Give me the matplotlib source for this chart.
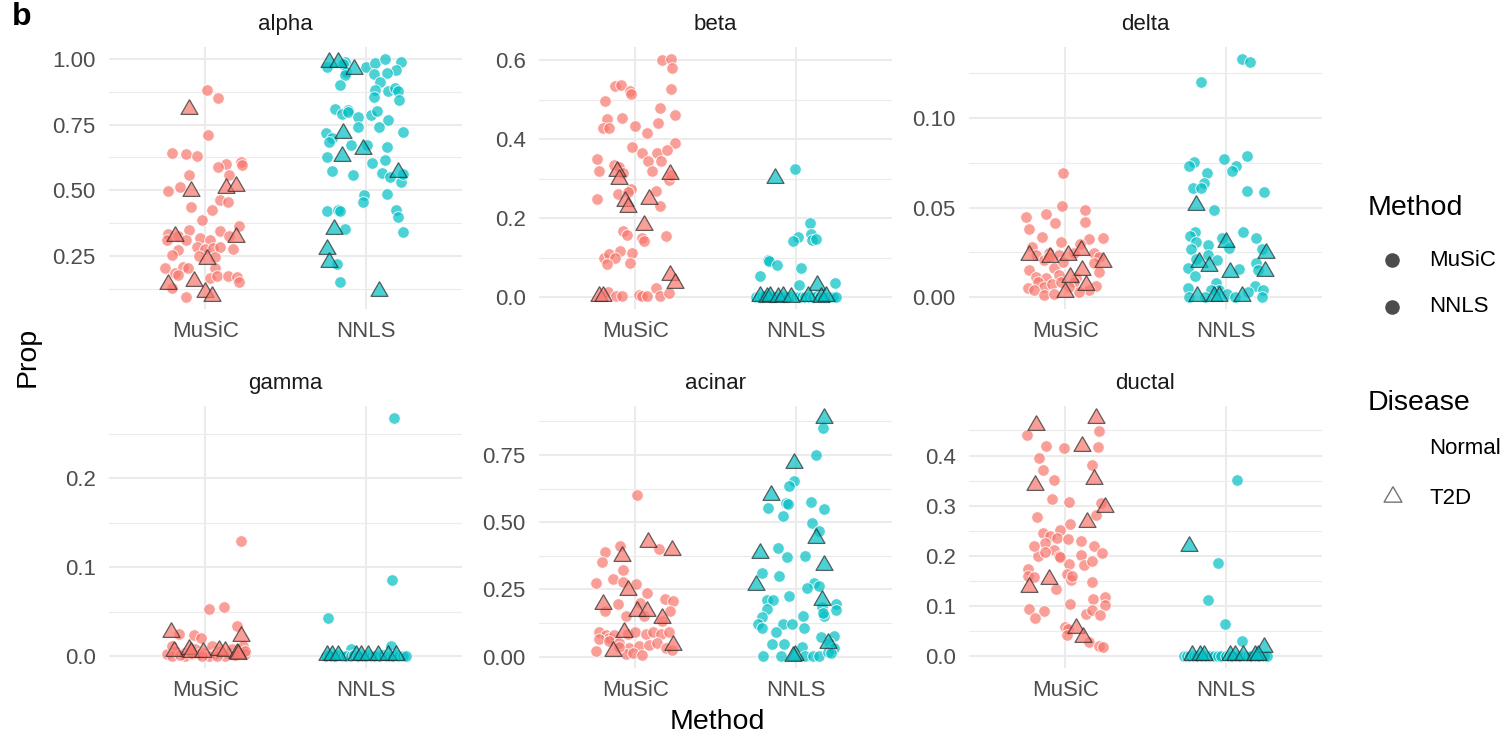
import numpy as np
import matplotlib
matplotlib.use("Agg")
import matplotlib.pyplot as plt

plt.rcParams['font.family'] = ['Liberation Sans', 'DejaVu Sans']

# ---------------- data ----------------
methods = ['MuSiC', 'NNLS']
cell_types = ['alpha', 'beta', 'delta', 'gamma', 'acinar', 'ductal']
disease_levels = ['Normal', 'T2D']

# alpha
alpha_music_normal = [0.883, 0.852, 0.712, 0.643, 0.639, 0.629, 0.601, 0.588, 0.607, 0.595, 0.559, 0.559, 0.497, 0.512,
                      0.464, 0.455, 0.436, 0.427, 0.389, 0.351, 0.347, 0.363, 0.335, 0.328, 0.310, 0.310, 0.320, 0.312,
                      0.325, 0.274, 0.284, 0.278, 0.282, 0.284, 0.278, 0.253, 0.249, 0.246, 0.204, 0.187, 0.208, 0.204,
                      0.204, 0.179, 0.168, 0.176, 0.176, 0.170, 0.151, 0.130, 0.094]
alpha_music_normal_jit = [0.01, 0.08, 0.02, -0.21, -0.12, -0.05, 0.13, 0.08, 0.22, 0.23, -0.10, 0.15, -0.23, -0.16,
                          0.09, 0.14, -0.09, 0.04, -0.02, -0.10, 0.09, 0.21, -0.23, -0.17, -0.24, -0.12, -0.03, 0.03,
                          0.15, -0.17, -0.05, 0.00, 0.05, 0.09, 0.17, -0.21, -0.04, 0.06, -0.25, -0.19, -0.14, -0.11,
                          0.06, -0.17, 0.03, 0.07, 0.14, 0.20, 0.21, -0.21, -0.12]
alpha_music_t2d = [0.810, 0.496, 0.508, 0.516, 0.328, 0.322, 0.237, 0.145, 0.154, 0.113, 0.097]
alpha_music_t2d_jit = [-0.10, -0.09, 0.13, 0.19, -0.19, 0.19, 0.01, -0.23, -0.07, 0.00, 0.04]
alpha_nnls_normal = [0.968, 0.990, 0.981, 0.968, 0.984, 1.000, 0.987, 0.956, 0.943, 0.946, 0.949, 0.937, 0.899, 0.911,
                     0.882, 0.854, 0.877, 0.890, 0.877, 0.842, 0.810, 0.804, 0.791, 0.797, 0.778, 0.785, 0.801, 0.768,
                     0.740, 0.740, 0.721, 0.717, 0.698, 0.683, 0.671, 0.674, 0.664, 0.626, 0.614, 0.603, 0.573, 0.560,
                     0.567, 0.550, 0.531, 0.563, 0.481, 0.455, 0.487, 0.421, 0.426, 0.421, 0.426, 0.398, 0.341, 0.354,
                     0.221, 0.151]
alpha_nnls_normal_jit = [-0.24, -0.13, -0.14, 0.00, 0.06, 0.12, 0.22, 0.19, 0.05, 0.13, -0.12, -0.13, -0.16, 0.09,
                         0.06, 0.05, 0.14, 0.18, 0.20, 0.21, -0.19, -0.11, -0.15, -0.11, -0.05, 0.03, 0.07, 0.14,
                         -0.05, 0.08, 0.23, -0.25, -0.21, -0.23, -0.09, 0.01, 0.13, -0.24, 0.12, 0.04, -0.21, -0.08,
                         0.10, 0.15, 0.22, 0.23, -0.01, -0.02, 0.13, -0.24, -0.17, -0.16, 0.19, 0.20, 0.23, -0.13,
                         -0.18, -0.16]
alpha_nnls_t2d = [0.987, 0.987, 0.962, 0.719, 0.658, 0.630, 0.569, 0.354, 0.278, 0.227, 0.117]
alpha_nnls_t2d_jit = [-0.23, -0.17, -0.07, -0.14, -0.02, -0.15, 0.20, -0.20, -0.24, -0.23, 0.08]

# beta
beta_music_normal = [0.602, 0.604, 0.581, 0.528, 0.535, 0.539, 0.522, 0.514, 0.496, 0.480, 0.462, 0.451, 0.454, 0.429,
                     0.429, 0.435, 0.441, 0.417, 0.391, 0.380, 0.366, 0.366, 0.372, 0.349, 0.344, 0.344, 0.321, 0.336,
                     0.330, 0.315, 0.320, 0.296, 0.273, 0.262, 0.270, 0.266, 0.248, 0.232, 0.167, 0.158, 0.150, 0.142,
                     0.154, 0.100, 0.110, 0.117, 0.112, 0.099, 0.085, 0.087, 0.014, 0.002, 0.003, 0.006, 0.002, 0.003,
                     0.024, 0.004, 0.011, 0.309]
beta_music_normal_jit = [0.165, 0.22, 0.23, 0.223, -0.124, -0.089, -0.033, -0.027, -0.186, 0.153, 0.247, -0.175,
                         -0.082, -0.202, -0.165, 0.0, 0.144, 0.072, 0.247, -0.02, 0.045, 0.134, 0.196, -0.237, 0.082,
                         0.159, -0.223, -0.13, -0.103, -0.078, 0.103, 0.21, -0.027, -0.109, 0.128, -0.047, -0.237,
                         0.155, -0.078, -0.052, 0.041, 0.052, 0.19, -0.192, -0.161, -0.093, -0.02, -0.124, -0.175,
                         -0.033, -0.171, -0.12, -0.085, 0.025, 0.041, 0.07, 0.128, 0.153, 0.21, 0.22]
beta_music_t2d = [0.321, 0.300, 0.243, 0.228, 0.249, 0.184, 0.313, 0.055, 0.036, 0.004, 0.003]
beta_music_t2d_jit = [-0.113, -0.103, -0.062, -0.047, 0.087, 0.056, 0.214, 0.214, 0.247, -0.223, -0.202]
beta_nnls_normal = [0.324, 0.188, 0.152, 0.142, 0.161, 0.144, 0.148, 0.095, 0.091, 0.082, 0.074, 0.053, 0.030, 0.036,
                    0.0, 0.001, 0.0, 0.002, 0.0, 0.001, 0.0, 0.0, 0.001, 0.0, 0.002, 0.0, 0.001, 0.0, 0.0, 0.001,
                    0.0, 0.002, 0.0, 0.001, 0.0, 0.0, 0.001, 0.0]
beta_nnls_normal_jit = [-0.006, 0.087, 0.014, -0.02, 0.093, 0.10, 0.128, -0.171, -0.167, -0.115, 0.035, -0.223, 0.019,
                        0.247, -0.25, -0.23, -0.21, -0.19, -0.16, -0.14, -0.12, -0.09, -0.07, -0.05, -0.02, 0.0,
                        0.02, 0.04, 0.06, 0.08, 0.11, 0.13, 0.15, 0.17, 0.19, 0.21, 0.23, 0.25]
beta_nnls_t2d = [0.301, 0.030, 0.002, 0.001, 0.002, 0.001, 0.002, 0.001, 0.002, 0.001, 0.002]
beta_nnls_t2d_jit = [-0.13, 0.134, -0.223, -0.181, -0.16, -0.109, -0.078, -0.027, 0.076, 0.159, 0.19]

# delta
delta_music_normal = [0.0694, 0.0509, 0.0448, 0.0467, 0.0485, 0.0383, 0.0415, 0.0420, 0.0337, 0.0309, 0.0322, 0.0331,
                      0.0281, 0.0296, 0.0235, 0.0244, 0.0235, 0.0244, 0.0244, 0.0226, 0.0207, 0.0161, 0.0198, 0.0189,
                      0.0143, 0.0152, 0.0115, 0.0106, 0.0124, 0.0106, 0.0087, 0.0050, 0.0059, 0.0074, 0.0087, 0.0087,
                      0.0063, 0.0041, 0.0013, 0.0019, 0.0037, 0.0026, 0.0059, 0.0226]
delta_music_normal_jit = [-0.012, -0.021, -0.244, -0.12, 0.122, -0.229, -0.062, 0.124, -0.145, -0.027, 0.149, 0.236,
                          -0.207, 0.091, -0.182, -0.099, -0.037, 0.056, 0.18, 0.211, -0.13, -0.072, -0.017, 0.18,
                          0.211, -0.223, -0.182, -0.12, -0.037, 0.066, -0.171, -0.233, -0.13, -0.083, -0.027, 0.056,
                          0.19, -0.192, -0.13, -0.068, 0.149, 0.087, 0.025, -0.099]
delta_music_t2d = [0.0235, 0.0222, 0.0235, 0.0263, 0.0198, 0.0152, 0.0115, 0.0069, 0.0031]
delta_music_t2d_jit = [-0.223, -0.095, 0.014, 0.101, 0.236, 0.107, 0.031, 0.132, 0.0]
delta_nnls_normal = [0.1331, 0.1313, 0.1204, 0.0791, 0.0769, 0.0757, 0.0735, 0.0730, 0.0704, 0.0694, 0.0639, 0.0609,
                     0.0609, 0.0591, 0.0587, 0.0489, 0.0365, 0.0361, 0.0343, 0.0333, 0.0333, 0.0309, 0.0291, 0.0272,
                     0.0269, 0.0269, 0.0235, 0.0213, 0.0207, 0.0193, 0.0161, 0.0157, 0.0152, 0.0120, 0.0081, 0.0063,
                     0.0050, 0.0037, 0.0041, 0.0041, 0.0019, 0.0, 0.0, 0.0, 0.0, 0.0031]
delta_nnls_normal_jit = [0.103, 0.153, -0.155, 0.134, -0.01, -0.2, -0.231, 0.064, 0.037, -0.114, -0.138, -0.205,
                         -0.153, 0.13, 0.24, -0.07, 0.105, -0.194, -0.225, 0.188, -0.025, -0.184, -0.112, 0.021,
                         -0.217, 0.227, -0.112, -0.184, -0.056, 0.186, -0.236, 0.083, 0.202, -0.19, -0.06, 0.182,
                         -0.236, 0.233, -0.039, -0.091, 0.006, -0.231, 0.227, 0.058, -0.128, 0.14]
delta_nnls_t2d = [0.0517, 0.0309, 0.0198, 0.0174, 0.0139, 0.0244, 0.0146, 0.0007, 0.0007, 0.0007, 0.0007]
delta_nnls_t2d_jit = [-0.186, 0.0, -0.165, -0.103, 0.027, 0.248, 0.244, -0.18, -0.076, -0.045, 0.099]

# gamma
gamma_music_normal = [0.130, 0.0535, 0.055, 0.0344, 0.0236, 0.0206, 0.025, 0.0019, 0.0112, 0.0056, 0.0037, 0.0,
                      0.0075, 0.0019, 0.0037, 0.0112, 0.0019, 0.0056, 0.0037, 0.0082, 0.0019, 0.0112, 0.0019, 0.0056,
                      0.0, 0.0019, 0.0, 0.0, 0.001, 0.0, 0.0, 0.001, 0.004]
gamma_music_normal_jit = [0.222, 0.025, 0.114, 0.2, -0.072, -0.025, -0.166, -0.238, -0.207, -0.186, -0.135, -0.124,
                          -0.062, -0.041, -0.01, 0.041, 0.062, 0.093, 0.145, 0.166, 0.207, 0.238, 0.248, 0.25,
                          -0.207, -0.083, 0.021, 0.124, -0.155, -0.02, 0.07, 0.185, -0.09]
gamma_music_t2d = [0.0273, 0.0224, 0.0056, 0.0075, 0.0045, 0.0045, 0.0064, 0.0056, 0.0037, 0.0019]
gamma_music_t2d_jit = [-0.211, 0.224, -0.197, -0.104, -0.087, -0.017, 0.083, 0.124, 0.197, 0.207]
gamma_nnls_normal = [0.268, 0.086, 0.043, 0.0082, 0.0112, 0.0, 0.001, 0.0, 0.0, 0.001, 0.0, 0.0, 0.0, 0.001, 0.0,
                     0.0, 0.0, 0.001, 0.0, 0.0, 0.0, 0.001, 0.0, 0.0, 0.0, 0.001, 0.0, 0.0, 0.0]
gamma_nnls_normal_jit = [0.176, 0.166, -0.238, -0.089, 0.159, -0.25, -0.23, -0.21, -0.19, -0.16, -0.14, -0.12, -0.09,
                         -0.07, -0.05, -0.02, 0.0, 0.02, 0.04, 0.06, 0.08, 0.11, 0.13, 0.15, 0.17, 0.19, 0.21, 0.23,
                         0.25]
gamma_nnls_t2d = [0.0015, 0.0015, 0.0015, 0.0015, 0.0015, 0.0015, 0.0015, 0.0015, 0.0015]
gamma_nnls_t2d_jit = [-0.244, -0.213, -0.172, -0.058, -0.027, 0.014, 0.077, 0.139, 0.19]

# acinar
acinar_music_normal = [0.602, 0.413, 0.401, 0.391, 0.352, 0.324, 0.287, 0.275, 0.278, 0.271, 0.237, 0.213, 0.206,
                       0.201, 0.194, 0.170, 0.169, 0.150, 0.150, 0.132, 0.090, 0.080, 0.068, 0.080, 0.086, 0.090,
                       0.086, 0.093, 0.086, 0.093, 0.064, 0.059, 0.052, 0.031, 0.039, 0.043, 0.049, 0.031, 0.025,
                       0.021, 0.009, 0.015, 0.006, 0.037]
acinar_music_normal_jit = [0.01, -0.093, 0.148, -0.188, -0.208, -0.074, -0.14, -0.247, -0.074, 0.004, 0.072, 0.184,
                           0.237, 0.031, -0.105, -0.188, 0.214, -0.058, 0.052, 0.165, -0.227, -0.181, -0.165, -0.13,
                           -0.047, -0.002, 0.066, 0.113, 0.159, 0.21, -0.223, -0.165, -0.103, -0.041, 0.025, 0.087,
                           0.138, 0.19, 0.231, -0.247, -0.058, -0.016, 0.045, -0.099]
acinar_music_t2d = [0.428, 0.398, 0.376, 0.247, 0.194, 0.170, 0.170, 0.142, 0.093, 0.021, 0.043]
acinar_music_t2d_jit = [0.08, 0.231, -0.085, -0.047, -0.202, 0.008, 0.076, 0.169, -0.068, -0.136, 0.235]
acinar_nnls_normal = [0.849, 0.749, 0.654, 0.635, 0.570, 0.567, 0.553, 0.577, 0.549, 0.522, 0.497, 0.469, 0.405,
                      0.370, 0.374, 0.312, 0.300, 0.275, 0.257, 0.262, 0.226, 0.212, 0.210, 0.197, 0.175, 0.176,
                      0.183, 0.146, 0.152, 0.152, 0.163, 0.123, 0.123, 0.121, 0.105, 0.105, 0.090, 0.074, 0.078,
                      0.046, 0.046, 0.037, 0.049, 0.031, 0.002, 0.002, 0.002, 0.002, 0.002, 0.019, 0.015]
acinar_nnls_normal_jit = [0.169, 0.128, -0.01, -0.041, -0.058, -0.047, -0.171, 0.097, 0.179, -0.082, 0.101, 0.148,
                          -0.109, -0.052, 0.06, -0.212, -0.103, 0.113, 0.07, 0.142, -0.041, -0.177, -0.14, 0.252,
                          0.252, -0.177, 0.165, -0.208, 0.045, 0.179, 0.169, -0.233, -0.082, -0.023, -0.212, 0.049,
                          -0.12, 0.155, 0.237, -0.146, -0.072, 0.041, 0.21, 0.241, -0.206, -0.093, 0.056, 0.107,
                          0.148, 0.2, 0.221]
acinar_nnls_t2d = [0.888, 0.722, 0.602, 0.440, 0.385, 0.342, 0.265, 0.210, 0.052, 0.006, 0.003]
acinar_nnls_t2d_jit = [0.179, -0.01, -0.157, 0.124, -0.223, 0.179, -0.247, 0.163, 0.2, -0.006, -0.016]

# ductal
ductal_music_normal = [0.441, 0.449, 0.419, 0.414, 0.416, 0.395, 0.382, 0.372, 0.352, 0.314, 0.307, 0.305, 0.281,
                       0.278, 0.264, 0.245, 0.252, 0.240, 0.236, 0.234, 0.230, 0.219, 0.225, 0.211, 0.199, 0.199,
                       0.202, 0.205, 0.184, 0.182, 0.189, 0.173, 0.160, 0.158, 0.163, 0.151, 0.148, 0.134, 0.114,
                       0.118, 0.104, 0.102, 0.094, 0.090, 0.076, 0.084, 0.091, 0.081, 0.059, 0.055, 0.043, 0.028,
                       0.021, 0.018, 0.220, 0.207, 0.197, 0.159]
ductal_music_normal_jit = [-0.24, 0.211, -0.12, -0.006, 0.205, -0.165, 0.169, -0.136, -0.068, -0.083, 0.025, 0.221,
                           0.194, -0.176, 0.031, -0.14, -0.031, -0.095, -0.054, 0.014, 0.097, 0.176, -0.124, -0.068,
                           -0.171, -0.037, 0.097, 0.227, 0.025, 0.114, 0.169, -0.233, -0.233, -0.192, 0.008, 0.035,
                           0.169, -0.058, 0.174, 0.248, 0.029, 0.246, -0.227, -0.13, -0.186, 0.132, 0.165, 0.217,
                           0.0, 0.014, 0.008, 0.149, 0.211, 0.238, -0.192, -0.124, -0.031, 0.045]
ductal_music_t2d = [0.461, 0.475, 0.419, 0.354, 0.341, 0.298, 0.268, 0.153, 0.138, 0.057, 0.039]
ductal_music_t2d_jit = [-0.182, 0.194, 0.103, 0.176, -0.186, 0.246, 0.138, -0.103, -0.223, 0.066, 0.112]
ductal_nnls_normal = [0.351, 0.186, 0.111, 0.064, 0.031, 0.0, 0.0, 0.001, 0.0, 0.0, 0.0, 0.001, 0.0, 0.0, 0.0,
                      0.0, 0.001, 0.0, 0.0, 0.0, 0.0, 0.001, 0.0, 0.0, 0.0, 0.0, 0.0, 0.001]
ductal_nnls_normal_jit = [0.072, -0.05, -0.112, -0.004, 0.103, -0.26, -0.24, -0.22, -0.2, -0.18, -0.15, -0.12, -0.1,
                          -0.07, -0.05, -0.03, 0.0, 0.02, 0.04, 0.07, 0.09, 0.12, 0.14, 0.16, 0.19, 0.21, 0.24, 0.26]
ductal_nnls_t2d = [0.220, 0.018, 0.003, 0.003, 0.003, 0.003, 0.003, 0.003, 0.003, 0.003]
ductal_nnls_t2d_jit = [-0.231, 0.24, -0.211, -0.159, -0.138, 0.027, 0.058, 0.11, 0.182, 0.202]

# y-axis breaks per facet
alpha_breaks = [0.25, 0.50, 0.75, 1.00]
beta_breaks = [0.0, 0.2, 0.4, 0.6]
delta_breaks = [0.00, 0.05, 0.10]
gamma_breaks = [0.0, 0.1, 0.2]
acinar_breaks = [0.00, 0.25, 0.50, 0.75]
ductal_breaks = [0.0, 0.1, 0.2, 0.3, 0.4]

panels = {
    'alpha': ((alpha_music_normal, alpha_music_normal_jit, alpha_music_t2d, alpha_music_t2d_jit),
              (alpha_nnls_normal, alpha_nnls_normal_jit, alpha_nnls_t2d, alpha_nnls_t2d_jit),
              alpha_breaks, '{:.2f}'),
    'beta': ((beta_music_normal, beta_music_normal_jit, beta_music_t2d, beta_music_t2d_jit),
             (beta_nnls_normal, beta_nnls_normal_jit, beta_nnls_t2d, beta_nnls_t2d_jit),
             beta_breaks, '{:.1f}'),
    'delta': ((delta_music_normal, delta_music_normal_jit, delta_music_t2d, delta_music_t2d_jit),
              (delta_nnls_normal, delta_nnls_normal_jit, delta_nnls_t2d, delta_nnls_t2d_jit),
              delta_breaks, '{:.2f}'),
    'gamma': ((gamma_music_normal, gamma_music_normal_jit, gamma_music_t2d, gamma_music_t2d_jit),
              (gamma_nnls_normal, gamma_nnls_normal_jit, gamma_nnls_t2d, gamma_nnls_t2d_jit),
              gamma_breaks, '{:.1f}'),
    'acinar': ((acinar_music_normal, acinar_music_normal_jit, acinar_music_t2d, acinar_music_t2d_jit),
               (acinar_nnls_normal, acinar_nnls_normal_jit, acinar_nnls_t2d, acinar_nnls_t2d_jit),
               acinar_breaks, '{:.2f}'),
    'ductal': ((ductal_music_normal, ductal_music_normal_jit, ductal_music_t2d, ductal_music_t2d_jit),
               (ductal_nnls_normal, ductal_nnls_normal_jit, ductal_nnls_t2d, ductal_nnls_t2d_jit),
               ductal_breaks, '{:.1f}'),
}

# ---------------- style ----------------
W, H = 1510, 739
fig = plt.figure(figsize=(W / 100, H / 100), dpi=100)
fig.patch.set_facecolor('white')

method_colors = {'MuSiC': (248 / 255, 118 / 255, 109 / 255), 'NNLS': (0.0, 191 / 255, 196 / 255)}
PT_ALPHA = 0.7
GRID = '#EBEBEB'
TRI = [(0.0, 1.0), (-0.866, -0.5), (0.866, -0.5), (0.0, 1.0)]
TICK_FS = 16
TITLE_FS = 20.5

col_left = [109, 539, 969]
row_top = [47, 406]
pw, ph = 353, 262


def px_axes(left, top, w, h):
    return fig.add_axes([left / W, 1 - (top + h) / H, w / W, h / H])


for idx, ct in enumerate(cell_types):
    r, c = divmod(idx, 3)
    ax = px_axes(col_left[c], row_top[r], pw, ph)
    mus, nnl, breaks, fmt = panels[ct]
    allv = list(mus[0]) + list(mus[2]) + list(nnl[0]) + list(nnl[2])
    lo, hi = min(allv), max(allv)
    rng = hi - lo
    ax.set_ylim(lo - 0.05 * rng, hi + 0.05 * rng)
    ax.set_xlim(0.4, 2.6)

    step = breaks[1] - breaks[0]
    minors = [b + step / 2 for b in [breaks[0] - step] + breaks]
    for m in minors:
        ax.axhline(m, color=GRID, lw=0.8, zorder=0)
    for b in breaks:
        ax.axhline(b, color=GRID, lw=1.5, zorder=0)
    for xpos in (1, 2):
        ax.axvline(xpos, color=GRID, lw=1.5, zorder=0)

    for mi, grp in enumerate((mus, nnl)):
        col = method_colors[methods[mi]]
        nv, nj, tv, tj = grp
        ax.scatter(mi + 1 + np.asarray(nj), np.asarray(nv), s=70, marker='o',
                   facecolors=[(*col, PT_ALPHA)], edgecolors=[(1, 1, 1, 0.85)], linewidths=0.7, zorder=3)
        ax.scatter(mi + 1 + np.asarray(tj), np.asarray(tv), s=200, marker=TRI,
                   facecolors=[(*col, PT_ALPHA)], edgecolors=[(0.15, 0.15, 0.15, 0.7)], linewidths=0.9, zorder=4)

    ax.set_yticks(breaks)
    ax.set_yticklabels([fmt.format(b) for b in breaks])
    ax.set_xticks([1, 2])
    ax.set_xticklabels(methods)
    ax.tick_params(axis='both', length=0, labelsize=TICK_FS, labelcolor='#4D4D4D')
    ax.tick_params(axis='x', pad=8.5)
    ax.tick_params(axis='y', pad=9.5)
    for s in ax.spines.values():
        s.set_visible(False)
    ax.set_facecolor('none')
    ax.text(0.5, 1 + 17 / ph, ct, transform=ax.transAxes, ha='center', va='baseline',
            fontsize=TICK_FS, color='#1A1A1A')

# axis titles and tag
fig.text(717 / W, 1 - 722 / H, 'Method', ha='center', va='center', fontsize=TITLE_FS, color='black')
fig.text(28 / W, 1 - 357 / H, 'Prop', ha='center', va='center', rotation=90, fontsize=TITLE_FS, color='black')
fig.text(12 / W, 1 - 2 / H, 'b', ha='left', va='top', fontsize=23, fontweight='bold', color='black')

# legends
lax = fig.add_axes([0, 0, 1, 1], zorder=-1)
lax.set_xlim(0, W)
lax.set_ylim(H, 0)
lax.axis('off')
fig.text(1368 / W, 1 - 208 / H, 'Method', ha='left', va='center', fontsize=TITLE_FS, color='black')
for yy, lab in zip((260, 307), methods):
    lax.scatter([1392], [yy], s=110, marker='o', color=(0, 0, 0, 0.7), linewidths=0)
    fig.text(1429 / W, 1 - yy / H, lab, ha='left', va='center', fontsize=TICK_FS, color='black')
fig.text(1368 / W, 1 - 403 / H, 'Disease', ha='left', va='center', fontsize=TITLE_FS, color='black')
fig.text(1429 / W, 1 - 449 / H, disease_levels[0], ha='left', va='center', fontsize=TICK_FS, color='black')
lax.scatter([1393], [497], s=220, marker=TRI, facecolors='none', edgecolors=[(0, 0, 0, 0.55)], linewidths=1.0)
fig.text(1429 / W, 1 - 498 / H, disease_levels[1], ha='left', va='center', fontsize=TICK_FS, color='black')

fig.savefig('out.png', dpi=100, facecolor='white')
